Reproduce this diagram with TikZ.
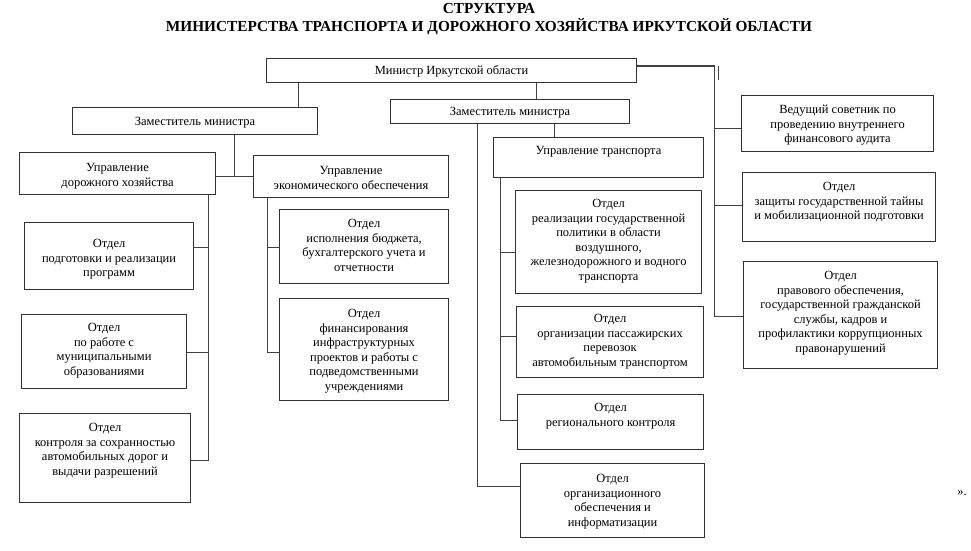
\documentclass[tikz,border=0pt]{standalone}
\usepackage{fontspec}
\setmainfont{Liberation Serif}
\usetikzlibrary{calc}

\newcommand{\cellbox}[4][18]{%
  \begin{minipage}[c][#3pt][t]{#2pt}
    \centering
    \vspace*{\dimexpr#1pt-0.7\baselineskip\relax}\strut#4
  \end{minipage}}

\tikzset{
  unit/.style={draw=black!80, line width=1.1pt, inner sep=0pt, anchor=north west,
    font=\fontsize{12.5}{14.6}\selectfont},
  link/.style={draw=black!75, line width=1pt},
  headline/.style={font=\fontsize{15.3}{18}\selectfont\bfseries, anchor=base}
}

\begin{document}
\begin{tikzpicture}[x=1pt,y=-1pt]
  \useasboundingbox (0,0) rectangle (971,551);

  % title
  \node[headline] (title1) at (489,13.5) {СТРУКТУРА};
  \node[headline] (title2) at (489,32) {МИНИСТЕРСТВА ТРАНСПОРТА И ДОРОЖНОГО ХОЗЯЙСТВА ИРКУТСКОЙ ОБЛАСТИ};

  % top level
  \node[unit] (minister) at (266,58) {\cellbox[16]{370}{24}{Министр Иркутской области}};
  \node[unit] (dep1) at (72,107) {\cellbox[18]{245}{27}{Заместитель министра}};
  \node[unit] (dep2) at (390,99) {\cellbox[16]{239}{24}{Заместитель министра}};

  % departments
  \node[unit] (roadU) at (19,152) {\cellbox[19]{196}{42}{Управление\\дорожного хозяйства}};
  \node[unit] (econU) at (253,155) {\cellbox[19]{195}{42}{Управление\\экономического обеспечения}};
  \node[unit] (trU) at (493,137) {\cellbox[17]{210}{40}{Управление транспорта}};

  % left column
  \node[unit] (prepD) at (24,222) {\cellbox[25]{169}{67}{Отдел\\подготовки и реализации\\программ}};
  \node[unit] (munD) at (21,314) {\cellbox[17]{165}{74}{Отдел\\по работе с\\муниципальными\\образованиями}};
  \node[unit] (ctrlD) at (19,413) {\cellbox{171}{89}{Отдел\\контроля за сохранностью\\автомобильных дорог и\\выдачи разрешений}};

  % economy column
  \node[unit] (budD) at (279,209) {\cellbox{169}{74}{Отдел\\исполнения бюджета,\\бухгалтерского учета и\\отчетности}};
  \node[unit] (finD) at (279,298) {\cellbox[19]{169}{102}{Отдел\\финансирования\\инфраструктурных\\проектов и работы с\\подведомственными\\учреждениями}};

  % transport column
  \node[unit] (realD) at (515,190) {\cellbox[17]{186}{103}{Отдел\\реализации государственной\\политики в области\\воздушного,\\железнодорожного и водного\\транспорта}};
  \node[unit] (passD) at (516,306) {\cellbox[16]{187}{71}{Отдел\\организации пассажирских\\перевозок\\автомобильным транспортом}};
  \node[unit] (regD) at (517,394) {\cellbox[17]{186}{55}{Отдел\\регионального контроля}};
  \node[unit] (orgD) at (520,463) {\cellbox[19]{184}{74}{Отдел\\организационного\\обеспечения и\\информатизации}};

  % right column
  \node[unit] (leadA) at (741,95) {\cellbox{192}{56}{Ведущий советник по\\проведению внутреннего\\финансового аудита}};
  \node[unit] (secD) at (742,172) {\cellbox{193}{69}{Отдел\\защиты государственной тайны\\и мобилизационной подготовки}};
  \node[unit] (lawD) at (743,261) {\cellbox{194}{107}{Отдел\\правового обеспечения,\\государственной гражданской\\службы, кадров и\\профилактики коррупционных\\правонарушений}};

  \node[font=\fontsize{12.5}{14.6}\selectfont] (closing) at (962,493) {».};

  % junctions
  \coordinate (m1) at (298,70);
  \coordinate (m2) at (536,70);
  \coordinate (j1) at (234,176);
  \coordinate (db) at (554,130);
  \coordinate (ob) at (477,486);
  \coordinate (lb1) at (208,247);
  \coordinate (lb2) at (208,352);
  \coordinate (lb3) at (208,460);
  \coordinate (eb1) at (267,247);
  \coordinate (eb2) at (267,352);
  \coordinate (tb1) at (500,252);
  \coordinate (tb2) at (500,336);
  \coordinate (tb3) at (500,420);
  \coordinate (rb0) at (714,66);
  \coordinate (rb1) at (714,128);
  \coordinate (rb2) at (714,205);
  \coordinate (rb3) at (714,316);

  % connectors
  \draw[link] (m1 |- minister.south) -- (m1 |- dep1.north);
  \draw[link] (m2 |- minister.south) -- (m2 |- dep2.north);
  \draw[link] (j1 |- dep1.south) -- (j1);
  \draw[link] (roadU.east |- j1) -- (econU.west |- j1);
  \draw[link] (db |- dep2.south) -- (db |- trU.north);
  \draw[link] (ob |- dep2.south) -- (ob) -- (ob -| orgD.west);

  \draw[link] (lb1 |- roadU.south) -- (lb3) -- (lb3 -| ctrlD.east);
  \draw[link] (lb1) -- (lb1 -| prepD.east);
  \draw[link] (lb2) -- (lb2 -| munD.east);

  \draw[link] (eb1 |- econU.south) -- (eb2) -- (eb2 -| finD.west);
  \draw[link] (eb1) -- (eb1 -| budD.west);

  \draw[link] (tb1 |- trU.south) -- (tb3) -- (tb3 -| regD.west);
  \draw[link] (tb1) -- (tb1 -| realD.west);
  \draw[link] (tb2) -- (tb2 -| passD.west);

  \draw[link] (rb0 -| minister.east) -- (rb0) -- (rb3) -- (rb3 -| lawD.west);
  \draw[link] (rb1) -- (rb1 -| leadA.west);
  \draw[link] (rb2) -- (rb2 -| secD.west);
  \draw[link] ([xshift=4pt]rb0) -- ++(0,14);
\end{tikzpicture}
\end{document}
